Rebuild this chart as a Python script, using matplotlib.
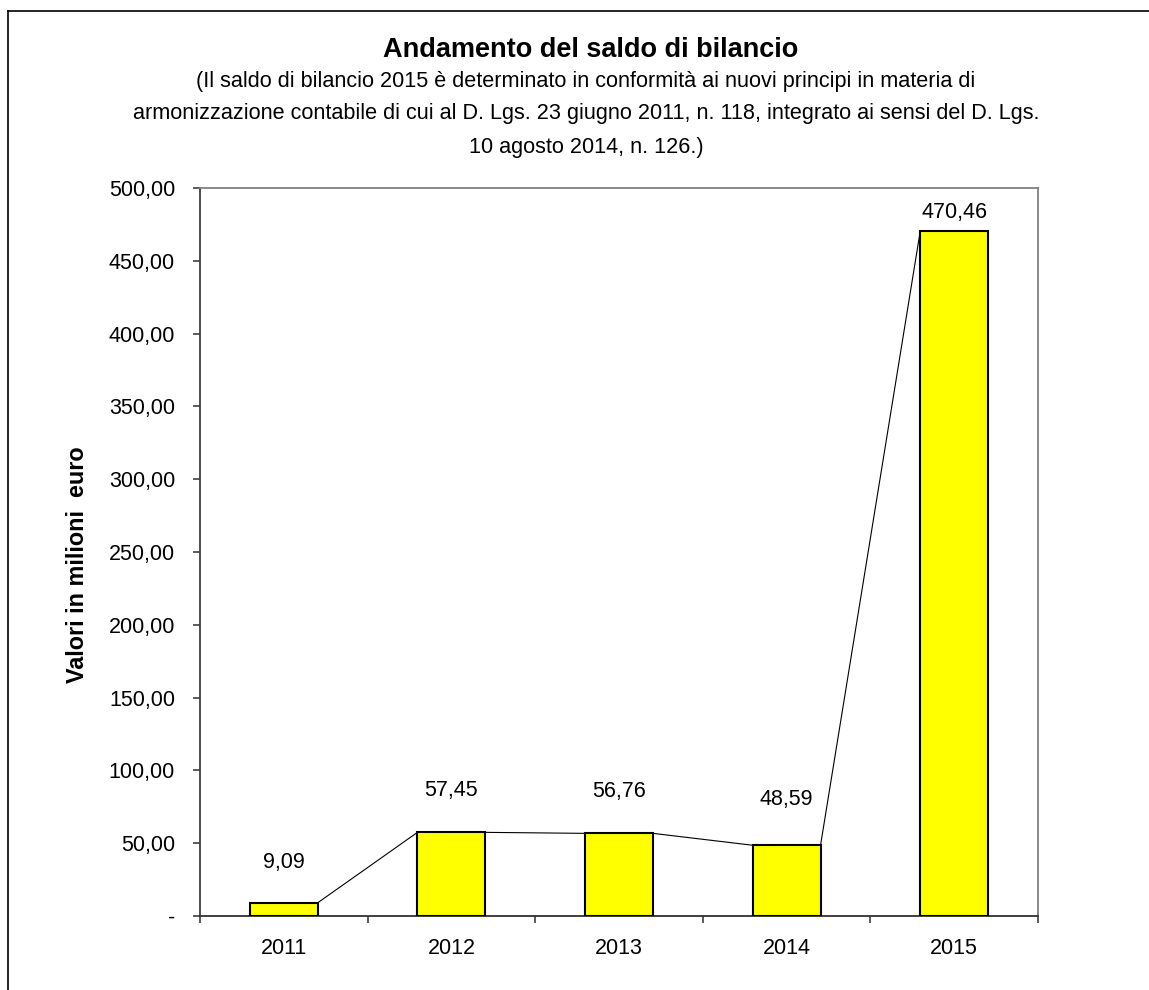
import matplotlib.pyplot as plt
from matplotlib.lines import Line2D
from matplotlib.ticker import FuncFormatter

plt.rcParams['font.family'] = ['Liberation Sans', 'DejaVu Sans']

# data
anni = ['2011', '2012', '2013', '2014', '2015']
saldo = [9.09, 57.45, 56.76, 48.59, 470.46]
# label offsets above bar tops (points), as placed in the original
label_offsets = [29, 30, 30, 33, 13]

titolo = 'Andamento del saldo di bilancio'
sottotitolo = ['(Il saldo di bilancio 2015 è determinato in conformità ai nuovi principi in materia di',
               'armonizzazione contabile di cui al D. Lgs. 23 giugno 2011, n. 118, integrato ai sensi del D. Lgs.',
               '10 agosto 2014, n. 126.)']


def fmt_it(v, pos=None):
    if v == 0:
        return '-'
    return f'{v:.2f}'.replace('.', ',')


fig = plt.figure(figsize=(11.49, 9.9), dpi=100)
ax = fig.add_axes([200 / 1149, 1 - 916 / 990, 838 / 1149, 728 / 990])

w = 0.405
x = list(range(len(anni)))
ax.bar(x, saldo, width=w, color='#FFFF00', edgecolor='black', linewidth=1.5, zorder=3)

# series lines between bars (Excel style)
for i in range(len(saldo) - 1):
    ax.plot([x[i] + w / 2, x[i + 1] - w / 2], [saldo[i], saldo[i + 1]],
            color='black', linewidth=0.8, zorder=2)

for xi, v, off in zip(x, saldo, label_offsets):
    ax.annotate(fmt_it(v), (xi, v), xytext=(0, off), textcoords='offset points',
                ha='center', va='center', fontsize=15.5)

ax.set_xlim(-0.5, len(anni) - 0.5)
ax.set_ylim(0, 500)
ax.set_yticks(range(0, 501, 50))
ax.yaxis.set_major_formatter(FuncFormatter(fmt_it))
ax.set_xticks(x)
ax.set_xticklabels(anni)
ax.set_xticks([i - 0.5 for i in range(len(anni) + 1)], minor=True)
ax.tick_params(axis='x', which='major', length=0, pad=16, labelsize=15.5)
ax.tick_params(axis='x', which='minor', length=5, width=1.2, color='#404040')
ax.tick_params(axis='y', length=5, width=1.2, color='#404040', pad=13, labelsize=15.5)

ax.spines['left'].set_color('#404040')
ax.spines['left'].set_linewidth(1.3)
ax.spines['bottom'].set_color('#303030')
ax.spines['bottom'].set_linewidth(1.3)
for s in ['top', 'right']:
    ax.spines[s].set_color('#808080')
    ax.spines[s].set_linewidth(1.3)

fig.text(77 / 1149, 1 - 565 / 990, 'Valori in milioni  euro', rotation=90,
         ha='center', va='center', fontsize=16.8, fontweight='bold')

fig.text(591 / 1149, 1 - 50 / 990, titolo, ha='center', va='center',
         fontsize=19.5, fontweight='bold')
for riga, yy in zip(sottotitolo, [82, 114, 147]):
    fig.text(586 / 1149, 1 - yy / 990, riga, ha='center', va='center', fontsize=15.6)

# outer frame (left and top edges visible)
fig.add_artist(Line2D([8 / 1149, 8 / 1149], [0, 1 - 11 / 990], color='black', linewidth=1.2))
fig.add_artist(Line2D([8 / 1149, 1], [1 - 11 / 990, 1 - 11 / 990], color='black', linewidth=1.2))

fig.savefig('out.png', dpi=100)
